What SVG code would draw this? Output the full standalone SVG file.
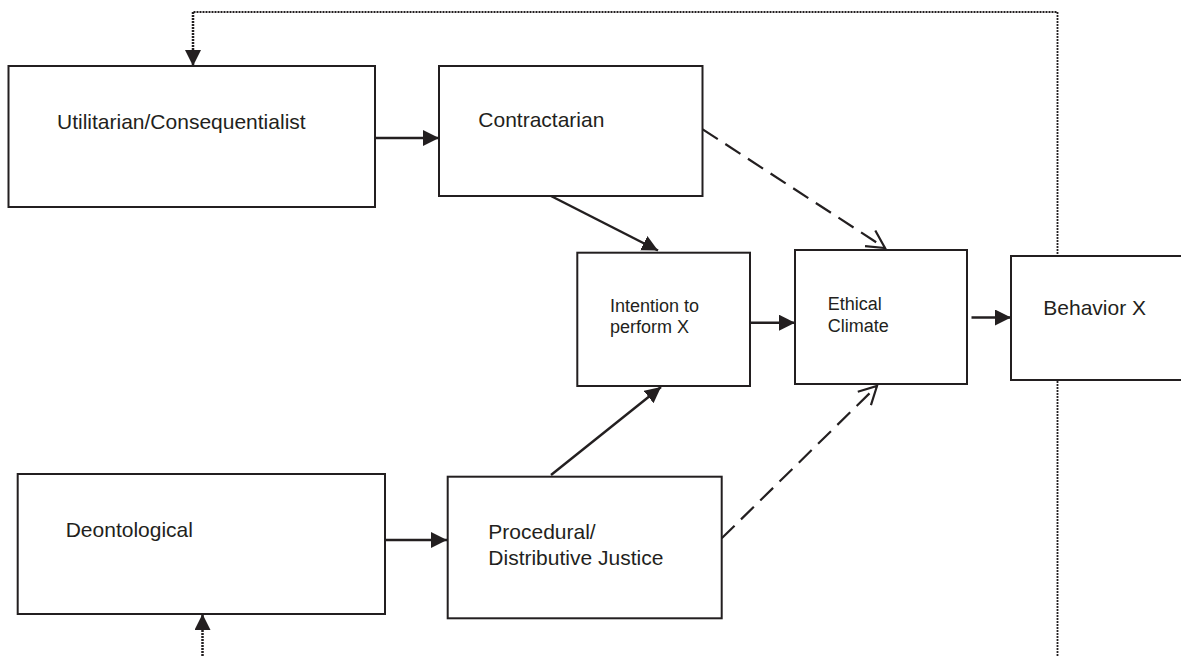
<svg xmlns="http://www.w3.org/2000/svg" width="1181" height="656" viewBox="0 0 1181 656">
  <style>
    .box { fill: #ffffff; stroke: #231f20; stroke-width: 2; }
    .lbl { font-family: "Liberation Sans", Arial, sans-serif; fill: #231f20; }
    .big { font-size: 21px; }
    .small { font-size: 18px; }
    .solid { fill: none; stroke: #231f20; stroke-width: 2.5; }
    .dash { fill: none; stroke: #231f20; stroke-width: 2.2; stroke-dasharray: 18 9; }
    .dot { fill: none; stroke: #231f20; stroke-width: 2.5; stroke-dasharray: 2 1; }
    .dotthin { fill: none; stroke: #231f20; stroke-width: 1.8; stroke-dasharray: 2 1; }
  </style>
  <defs>
    <marker id="tri" markerUnits="userSpaceOnUse" viewBox="0 0 16 16" refX="16" refY="8" markerWidth="16" markerHeight="16" orient="auto">
      <path d="M0,0 L16,8 L0,16 Z" fill="#231f20"/>
    </marker>
    <marker id="vee" markerUnits="userSpaceOnUse" viewBox="0 0 22 22" refX="20" refY="11" markerWidth="22" markerHeight="22" orient="auto" overflow="visible">
      <path d="M2.3,1.6 L20,11 L2.3,20.4" fill="none" stroke="#231f20" stroke-width="2.2"/>
    </marker>
  </defs>

  <g id="connectors">
    <!-- feedback loop: Behavior X back up to Utilitarian/Consequentialist -->
    <path class="dotthin" d="M1057.5,656 L1057.5,12 L193,12"/>
    <path class="dot" d="M193,12 L193,66" marker-end="url(#tri)"/>
    <!-- incoming feedback into Deontological -->
    <path class="dot" d="M202.5,656 L202.5,614" marker-end="url(#tri)"/>
    <!-- solid paths -->
    <path class="solid" d="M375,138 L439,138" marker-end="url(#tri)"/>
    <path class="solid" d="M551,196 L658,250.5" marker-end="url(#tri)"/>
    <path class="solid" d="M385,540 L447,540" marker-end="url(#tri)"/>
    <path class="solid" d="M551,475 L661,387" marker-end="url(#tri)"/>
    <path class="solid" d="M750,322.7 L795,322.7" marker-end="url(#tri)"/>
    <path class="solid" d="M971.5,317.5 L1011,317.5" marker-end="url(#tri)"/>
    <!-- dashed moderating paths -->
    <path class="dash" d="M702.7,129.3 L885,248" marker-end="url(#vee)"/>
    <path class="dash" d="M721.7,538.3 L877,386" marker-end="url(#vee)"/>
  </g>

  <g id="utilitarian">
    <rect class="box" x="8.5" y="66" width="366.5" height="141"/>
    <text class="lbl big" x="57" y="129">Utilitarian/Consequentialist</text>
  </g>

  <g id="contractarian">
    <rect class="box" x="439" y="66" width="263.5" height="130"/>
    <text class="lbl big" x="478.3" y="127">Contractarian</text>
  </g>

  <g id="intention">
    <rect class="box" x="577.3" y="252.7" width="172.7" height="133.3"/>
    <text class="lbl small" x="610" y="311.7">Intention to</text>
    <text class="lbl small" x="610" y="332.7">perform X</text>
  </g>

  <g id="ethical-climate">
    <rect class="box" x="795" y="250" width="172" height="134"/>
    <text class="lbl small" x="827.7" y="310">Ethical</text>
    <text class="lbl small" x="827.7" y="331.7">Climate</text>
  </g>

  <g id="behavior">
    <rect class="box" x="1011" y="256" width="190" height="124"/>
    <text class="lbl big" x="1043.3" y="315">Behavior X</text>
  </g>

  <g id="deontological">
    <rect class="box" x="17.7" y="474" width="367.3" height="140"/>
    <text class="lbl big" x="65.7" y="536.7">Deontological</text>
  </g>

  <g id="justice">
    <rect class="box" x="447.7" y="476.7" width="274" height="141.6"/>
    <text class="lbl big" x="488.3" y="539.3">Procedural/</text>
    <text class="lbl big" x="488.3" y="565">Distributive Justice</text>
  </g>
</svg>
